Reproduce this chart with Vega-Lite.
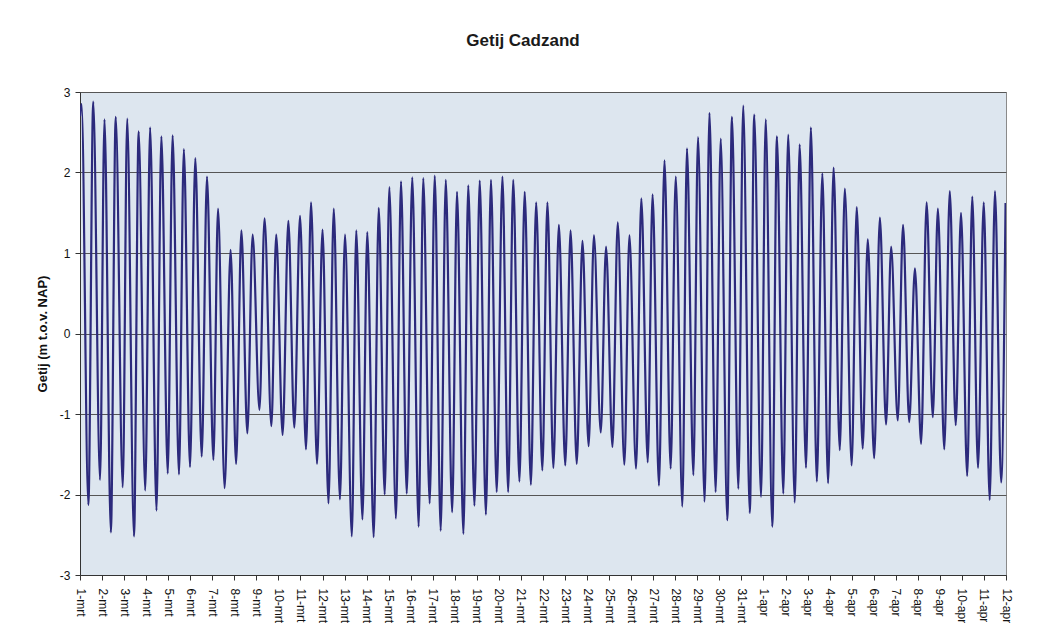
{
  "$schema": "https://vega.github.io/schema/vega-lite/v6.json",
  "autosize": "none",
  "width": 926,
  "height": 483,
  "padding": {"left": 80, "top": 92, "right": 34, "bottom": 66},
  "background": "white",
  "title": {
    "text": "Getij Cadzand",
    "fontSize": 17,
    "fontWeight": "bold",
    "font": "Liberation Sans",
    "color": "#1a1a1a",
    "anchor": "middle",
    "dx": -20,
    "offset": 36
  },
  "data": {
    "values": [
      {"dag": 0.00, "getij": 2.70},
      {"dag": 0.07, "getij": 2.85},
      {"dag": 0.38, "getij": -2.13},
      {"dag": 0.60, "getij": 2.88},
      {"dag": 0.91, "getij": -1.82},
      {"dag": 1.11, "getij": 2.66},
      {"dag": 1.40, "getij": -2.47},
      {"dag": 1.62, "getij": 2.69},
      {"dag": 1.94, "getij": -1.91},
      {"dag": 2.14, "getij": 2.67},
      {"dag": 2.45, "getij": -2.52},
      {"dag": 2.66, "getij": 2.51},
      {"dag": 2.96, "getij": -1.95},
      {"dag": 3.18, "getij": 2.56},
      {"dag": 3.47, "getij": -2.20},
      {"dag": 3.69, "getij": 2.45},
      {"dag": 3.98, "getij": -1.74},
      {"dag": 4.20, "getij": 2.46},
      {"dag": 4.49, "getij": -1.75},
      {"dag": 4.71, "getij": 2.29},
      {"dag": 4.99, "getij": -1.66},
      {"dag": 5.23, "getij": 2.18},
      {"dag": 5.52, "getij": -1.53},
      {"dag": 5.76, "getij": 1.95},
      {"dag": 6.05, "getij": -1.57},
      {"dag": 6.26, "getij": 1.55},
      {"dag": 6.56, "getij": -1.92},
      {"dag": 6.83, "getij": 1.04},
      {"dag": 7.08, "getij": -1.62},
      {"dag": 7.32, "getij": 1.28},
      {"dag": 7.59, "getij": -1.24},
      {"dag": 7.83, "getij": 1.23},
      {"dag": 8.14, "getij": -0.95},
      {"dag": 8.37, "getij": 1.43},
      {"dag": 8.68, "getij": -1.15},
      {"dag": 8.90, "getij": 1.23},
      {"dag": 9.19, "getij": -1.26},
      {"dag": 9.45, "getij": 1.40},
      {"dag": 9.72, "getij": -1.17},
      {"dag": 9.98, "getij": 1.46},
      {"dag": 10.25, "getij": -1.44},
      {"dag": 10.48, "getij": 1.63},
      {"dag": 10.75, "getij": -1.62},
      {"dag": 11.00, "getij": 1.29},
      {"dag": 11.27, "getij": -2.11},
      {"dag": 11.51, "getij": 1.55},
      {"dag": 11.79, "getij": -2.06},
      {"dag": 12.02, "getij": 1.23},
      {"dag": 12.33, "getij": -2.52},
      {"dag": 12.53, "getij": 1.28},
      {"dag": 12.81, "getij": -2.31},
      {"dag": 13.03, "getij": 1.26},
      {"dag": 13.32, "getij": -2.53},
      {"dag": 13.55, "getij": 1.56},
      {"dag": 13.82, "getij": -2.00},
      {"dag": 14.03, "getij": 1.82},
      {"dag": 14.33, "getij": -2.30},
      {"dag": 14.56, "getij": 1.89},
      {"dag": 14.82, "getij": -1.99},
      {"dag": 15.07, "getij": 1.94},
      {"dag": 15.36, "getij": -2.40},
      {"dag": 15.57, "getij": 1.93},
      {"dag": 15.86, "getij": -2.11},
      {"dag": 16.09, "getij": 1.96},
      {"dag": 16.36, "getij": -2.45},
      {"dag": 16.59, "getij": 1.91},
      {"dag": 16.88, "getij": -2.22},
      {"dag": 17.10, "getij": 1.76},
      {"dag": 17.39, "getij": -2.49},
      {"dag": 17.61, "getij": 1.84},
      {"dag": 17.89, "getij": -2.14},
      {"dag": 18.13, "getij": 1.90},
      {"dag": 18.41, "getij": -2.25},
      {"dag": 18.64, "getij": 1.91},
      {"dag": 18.90, "getij": -1.97},
      {"dag": 19.16, "getij": 1.95},
      {"dag": 19.42, "getij": -1.97},
      {"dag": 19.65, "getij": 1.91},
      {"dag": 19.93, "getij": -1.84},
      {"dag": 20.17, "getij": 1.76},
      {"dag": 20.45, "getij": -1.88},
      {"dag": 20.69, "getij": 1.63},
      {"dag": 20.97, "getij": -1.70},
      {"dag": 21.20, "getij": 1.63},
      {"dag": 21.47, "getij": -1.67},
      {"dag": 21.72, "getij": 1.35},
      {"dag": 22.01, "getij": -1.64},
      {"dag": 22.25, "getij": 1.28},
      {"dag": 22.53, "getij": -1.62},
      {"dag": 22.79, "getij": 1.15},
      {"dag": 23.07, "getij": -1.40},
      {"dag": 23.31, "getij": 1.22},
      {"dag": 23.62, "getij": -1.23},
      {"dag": 23.86, "getij": 1.08},
      {"dag": 24.15, "getij": -1.41},
      {"dag": 24.39, "getij": 1.38},
      {"dag": 24.69, "getij": -1.63},
      {"dag": 24.92, "getij": 1.22},
      {"dag": 25.22, "getij": -1.68},
      {"dag": 25.46, "getij": 1.68},
      {"dag": 25.75, "getij": -1.60},
      {"dag": 25.97, "getij": 1.73},
      {"dag": 26.26, "getij": -1.89},
      {"dag": 26.51, "getij": 2.15},
      {"dag": 26.79, "getij": -1.68},
      {"dag": 27.02, "getij": 1.95},
      {"dag": 27.32, "getij": -2.15},
      {"dag": 27.53, "getij": 2.30},
      {"dag": 27.82, "getij": -1.76},
      {"dag": 28.03, "getij": 2.44},
      {"dag": 28.33, "getij": -2.09},
      {"dag": 28.55, "getij": 2.74},
      {"dag": 28.83, "getij": -1.97},
      {"dag": 29.06, "getij": 2.42},
      {"dag": 29.36, "getij": -2.32},
      {"dag": 29.57, "getij": 2.69},
      {"dag": 29.86, "getij": -1.93},
      {"dag": 30.08, "getij": 2.83},
      {"dag": 30.38, "getij": -2.23},
      {"dag": 30.58, "getij": 2.72},
      {"dag": 30.89, "getij": -2.03},
      {"dag": 31.10, "getij": 2.66},
      {"dag": 31.40, "getij": -2.40},
      {"dag": 31.61, "getij": 2.45},
      {"dag": 31.90, "getij": -1.99},
      {"dag": 32.12, "getij": 2.47},
      {"dag": 32.42, "getij": -2.10},
      {"dag": 32.64, "getij": 2.35},
      {"dag": 32.93, "getij": -1.67},
      {"dag": 33.15, "getij": 2.56},
      {"dag": 33.42, "getij": -1.84},
      {"dag": 33.67, "getij": 1.99},
      {"dag": 33.93, "getij": -1.86},
      {"dag": 34.18, "getij": 2.06},
      {"dag": 34.46, "getij": -1.45},
      {"dag": 34.69, "getij": 1.80},
      {"dag": 35.00, "getij": -1.64},
      {"dag": 35.23, "getij": 1.57},
      {"dag": 35.50, "getij": -1.43},
      {"dag": 35.73, "getij": 1.17},
      {"dag": 36.02, "getij": -1.55},
      {"dag": 36.28, "getij": 1.44},
      {"dag": 36.56, "getij": -1.13},
      {"dag": 36.79, "getij": 1.08},
      {"dag": 37.09, "getij": -1.08},
      {"dag": 37.33, "getij": 1.35},
      {"dag": 37.61, "getij": -1.10},
      {"dag": 37.87, "getij": 0.81},
      {"dag": 38.15, "getij": -1.37},
      {"dag": 38.40, "getij": 1.63},
      {"dag": 38.68, "getij": -1.04},
      {"dag": 38.91, "getij": 1.55},
      {"dag": 39.20, "getij": -1.44},
      {"dag": 39.45, "getij": 1.77},
      {"dag": 39.72, "getij": -1.14},
      {"dag": 39.96, "getij": 1.50},
      {"dag": 40.24, "getij": -1.77},
      {"dag": 40.47, "getij": 1.70},
      {"dag": 40.73, "getij": -1.67},
      {"dag": 40.99, "getij": 1.63},
      {"dag": 41.26, "getij": -2.07},
      {"dag": 41.50, "getij": 1.77},
      {"dag": 41.78, "getij": -1.85},
      {"dag": 41.98, "getij": 1.62}
    ]
  },
  "mark": {"type": "line", "interpolate": "monotone", "color": "#2c2a7c", "strokeWidth": 2.2, "clip": true},
  "encoding": {
    "x": {
      "field": "dag",
      "type": "quantitative",
      "scale": {"domain": [0, 42], "nice": false, "zero": false},
      "axis": {
        "title": null,
        "values": [0,1,2,3,4,5,6,7,8,9,10,11,12,13,14,15,16,17,18,19,20,21,22,23,24,25,26,27,28,29,30,31,32,33,34,35,36,37,38,39,40,41,42],
        "labelExpr": "datum.value < 31 ? (datum.value + 1) + '-mrt' : (datum.value - 30) + '-apr'",
        "labelAngle": 90,
        "labelFontSize": 12,
        "labelPadding": 8,
        "labelOverlap": false,
        "labelFlush": false,
        "grid": false,
        "tickSize": 5,
        "tickColor": "#333",
        "domainColor": "#333"
      }
    },
    "y": {
      "field": "getij",
      "type": "quantitative",
      "scale": {"domain": [-3, 3], "nice": false, "zero": false},
      "axis": {
        "title": "Getij (m t.o.v. NAP)",
        "titleFontSize": 13,
        "titleFontWeight": "bold",
        "titlePadding": 10,
        "values": [-3, -2, -1, 0, 1, 2, 3],
        "labelExpr": "'' + datum.value",
        "labelFontSize": 12,
        "labelPadding": 5,
        "tickSize": 5,
        "tickColor": "#333",
        "domainColor": "#333",
        "gridColor": "#555",
        "gridOpacity": 1,
        "gridWidth": 1
      }
    }
  },
  "config": {
    "font": "Liberation Sans",
    "view": {"fill": "#dde6ef", "stroke": "#8a8a8a"},
    "axis": {"labelColor": "#111", "titleColor": "#111", "labelFont": "Liberation Sans", "titleFont": "Liberation Sans"}
  }
}
